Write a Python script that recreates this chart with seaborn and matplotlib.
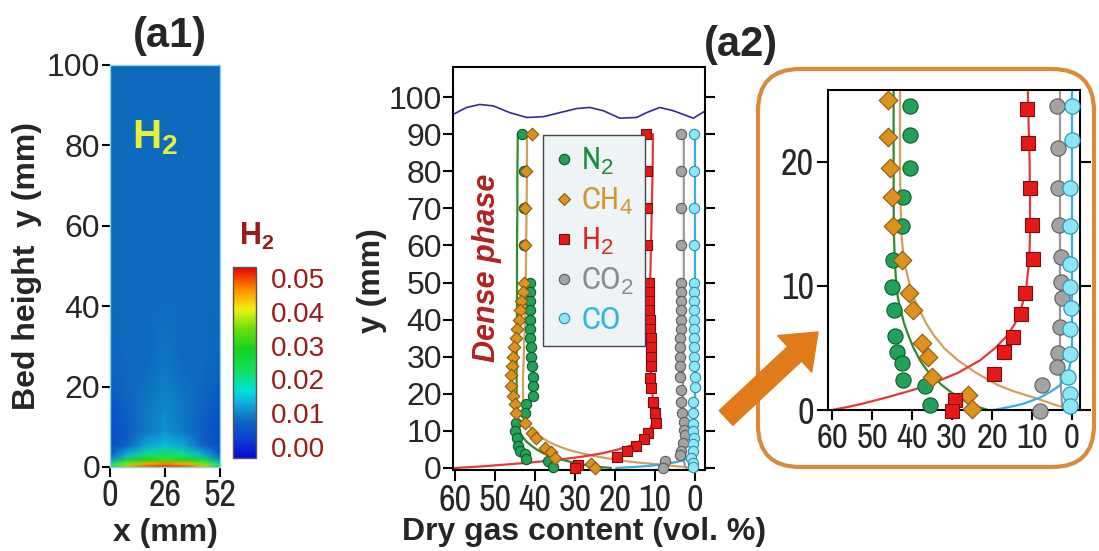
import numpy as np
import pandas as pd
import seaborn as sns
import matplotlib
matplotlib.use("Agg")
import matplotlib.pyplot as plt
from matplotlib import font_manager
from matplotlib.colors import LinearSegmentedColormap, Normalize
from matplotlib.patches import FancyBboxPatch, FancyArrow
from matplotlib.lines import Line2D

# ---------------------------------------------------------------- data
# (a1) simulated H2 mole fraction in the bed, coarse grid (x, y in mm)
field_x = [0, 8, 17, 26, 35, 44, 52]
field_y = [0, 0.8, 1.8, 3.2, 5.5, 9, 15, 25, 45, 100]
field_h2 = [
    [0.026, 0.044, 0.050, 0.052, 0.050, 0.044, 0.026],
    [0.020, 0.036, 0.045, 0.047, 0.045, 0.036, 0.020],
    [0.011, 0.024, 0.030, 0.032, 0.030, 0.024, 0.011],
    [0.006, 0.013, 0.020, 0.022, 0.020, 0.013, 0.006],
    [0.004, 0.007, 0.012, 0.014, 0.012, 0.007, 0.004],
    [0.004, 0.006, 0.009, 0.011, 0.009, 0.006, 0.004],
    [0.005, 0.007, 0.009, 0.010, 0.009, 0.007, 0.005],
    [0.007, 0.008, 0.008, 0.009, 0.008, 0.008, 0.007],
    [0.008, 0.008, 0.008, 0.008, 0.008, 0.008, 0.008],
    [0.008, 0.008, 0.008, 0.008, 0.008, 0.008, 0.008],
]
cbar_ticks = [0.00, 0.01, 0.02, 0.03, 0.04, 0.05]
a1_xticks = [0, 26, 52]
a1_yticks = [0, 20, 40, 60, 80, 100]

# (a2) measured dry gas content (vol. %) versus height y (mm)
upper_y = [90, 80, 70, 60, 50, 47.5, 45, 42.5, 40, 37.5, 35, 32.5, 30, 27.5]

n2_y = upper_y + [24.5, 22.2, 19.5, 17.2, 14.8, 12.1, 9.9, 8.1, 6.0, 4.7, 3.8, 2.4, 1.9, 0.4]
n2_x = [43.3, 42.8, 42.8, 42.8, 41.3, 41.3, 41.3, 41.2, 41.3, 41.2, 41.2, 41.0, 41.0, 40.8,
        40.5, 40.5, 40.5, 42.2, 42.6, 44.7, 45.1, 44.4, 44.3, 43.8, 42.6, 42.2, 36.8, 35.5]

ch4_y = upper_y + [25.0, 22.0, 19.5, 17.2, 14.8, 12.1, 9.4, 8.1, 5.4, 4.3, 2.7, 1.2, 0.1]
ch4_x = [40.8, 42.3, 42.6, 42.5, 42.8, 43.1, 43.4, 43.8, 44.0, 44.5, 44.8, 45.3, 45.6, 45.8,
         45.9, 45.9, 45.5, 45.0, 44.8, 42.6, 40.7, 39.7, 37.6, 35.9, 35.1, 25.9, 25.1]

h2_y = upper_y + [24.3, 21.5, 17.9, 14.9, 12.2, 9.4, 7.7, 5.9, 4.7, 2.9, 0.8, -0.1]
h2_x = [12.3, 12.0, 12.0, 12.0, 11.6, 11.5, 11.5, 11.4, 11.3, 11.2, 11.0, 11.0, 11.0, 11.0,
        11.2, 11.0, 10.5, 10.1, 9.8, 11.8, 12.8, 14.8, 16.9, 19.5, 29.3, 30.1]

co2_y = upper_y + [24.5, 21.1, 17.9, 14.9, 12.3, 10.3, 9.0, 6.7, 4.6, 3.5, 2.0, -0.1]
co2_x = [3.6, 3.6, 3.6, 3.6, 3.6, 3.6, 3.6, 3.6, 3.6, 3.6, 3.7, 3.7, 3.7, 3.7,
         3.8, 3.4, 3.4, 3.3, 2.8, 2.8, 2.6, 2.9, 3.4, 3.8, 7.6, 8.0]

co_y = upper_y + [24.5, 21.8, 17.9, 14.8, 11.8, 9.9, 8.2, 6.5, 4.5, 2.7, 1.3, 0.3]
co_x = [0.2, 0.2, 0.2, 0.2, 0.2, 0.2, 0.2, 0.2, 0.2, 0.2, 0.2, 0.2, 0.2, 0.2,
        0.1, 0.1, 0.5, 0.5, 0.5, 0.4, 0.3, 0.5, 0.5, 0.9, 0.5, 0.5]

# model profiles
fit_y = [0, 0.25, 0.5, 1, 1.5, 2, 3, 4, 5, 6, 7, 8, 9, 10, 12, 14, 17, 20, 25, 30,
         40, 50, 60, 70, 80, 90]
n2_fit = [21.0, 23.5, 25.5, 28.3, 30.5, 32.5, 35.8, 38.0, 39.6, 40.9, 42.0, 42.8, 43.5,
          43.9, 44.3, 44.5, 44.6, 44.6, 44.6, 44.6, 44.5, 44.5, 44.5, 44.4, 44.4, 44.3]
ch4_fit = [0.0, 2.5, 5.0, 9.5, 14.5, 18.5, 24.0, 28.5, 32.0, 34.5, 36.5, 38.0, 39.5,
           40.5, 42.0, 42.6, 42.9, 43.0, 43.0, 42.8, 42.5, 42.3, 42.2, 42.1, 42.0, 42.0]
h2_fit = [60.0, 56.0, 52.5, 46.5, 41.0, 36.0, 28.5, 23.0, 19.2, 16.2, 14.2, 12.9, 12.0,
          11.4, 10.7, 10.5, 10.5, 10.6, 11.0, 11.2, 11.3, 11.2, 11.0, 10.8, 10.6, 10.5]
co2_fit = [2.2, 2.4, 2.5, 2.6, 2.7, 2.8, 2.9, 3.0, 3.0, 3.0, 3.0, 3.0, 3.0, 3.0, 3.0,
           3.0, 3.0, 3.0, 3.0, 2.9, 2.8, 2.8, 2.8, 2.8, 2.8, 2.8]
co_fit = [19.7, 15.5, 12.2, 8.0, 5.2, 3.0, 1.0, 0.2, 0.0, 0.0, 0.0, 0.0, 0.0, 0.0, 0.0,
          0.0, 0.0, 0.0, 0.0, 0.0, 0.0, 0.0, 0.0, 0.0, 0.0, 0.0]

# bed surface
surf_x = [60.5, 57.1, 53.8, 50.4, 46.3, 42.1, 37.9, 33.8, 29.6, 26.3, 22.9, 18.8, 14.6,
          12.1, 8.8, 5.4, 0.4, -2.5]
surf_y = [95.3, 97.2, 98.0, 97.6, 95.8, 94.5, 94.7, 95.8, 96.9, 97.2, 96.3, 94.3, 94.5,
          95.8, 97.2, 96.3, 94.3, 96.2]

gas_labels = ["N$_2$", "CH$_4$", "H$_2$", "CO$_2$", "CO"]
gas_ticks = [60, 50, 40, 30, 20, 10, 0]
a2_yticks = [0, 10, 20, 30, 40, 50, 60, 70, 80, 90, 100]
inset_yticks = [0, 10, 20]

# ---------------------------------------------------------------- style
sns.set_theme(style="ticks")
names = {f.name for f in font_manager.fontManager.ttflist}
SANS = "Liberation Sans" if "Liberation Sans" in names else "DejaVu Sans"
NARROW = next((n for n in ["Liberation Sans Narrow", "Arial Narrow", "Nimbus Sans Narrow",
                           "Archivo Narrow", "Roboto Condensed", "PT Sans Narrow"]
               if n in names), SANS)
plt.rcParams["font.family"] = [SANS, "DejaVu Sans"]
plt.rcParams["mathtext.fontset"] = "custom"
plt.rcParams["mathtext.rm"] = SANS
plt.rcParams["mathtext.it"] = SANS + ":italic"
plt.rcParams["mathtext.bf"] = SANS + ":bold"
plt.rcParams["axes.linewidth"] = 1.5

W, H = 1099, 551


def frame(x0, y0, x1, y1):
    return [x0 / W, 1 - y1 / H, (x1 - x0) / W, (y1 - y0) / H]


def thicken(labels, weight="medium"):
    for lab in labels:
        lab.set_fontweight(weight)


gases = [
    dict(y=n2_y, x=n2_x, fit=n2_fit, marker="o", face="#23a05a", edge="#0f5a2a",
         line="#2e8b2e", text="#1e8a3c", scale=1.0),
    dict(y=ch4_y, x=ch4_x, fit=ch4_fit, marker="D", face="#dc921f", edge="#8a5a12",
         line="#d4a060", text="#d4962e", scale=0.75),
    dict(y=h2_y, x=h2_x, fit=h2_fit, marker="s", face="#e61919", edge="#7a0c0c",
         line="#e03a3a", text="#e02828", scale=0.95),
    dict(y=co2_y, x=co2_x, fit=co2_fit, marker="o", face="#a3a3a3", edge="#5e5e5e",
         line="#9a9a9a", text="#8c8c8c", scale=1.0),
    dict(y=co_y, x=co_x, fit=co_fit, marker="o", face="#8fe6f5", edge="#2a8fb5",
         line="#3aaee0", text="#30b8dc", scale=1.0),
]

fig = plt.figure(figsize=(W / 100, H / 100), dpi=100)

# ---------------------------------------------------------------- (a1)
ax1 = fig.add_axes(frame(110, 65, 220, 467))
cmap = LinearSegmentedColormap.from_list("bed", [
    (0.00, "#0808d8"), (0.10, "#0c40d0"), (0.20, "#0d6cbc"), (0.28, "#12a6dc"),
    (0.35, "#00e0e0"), (0.45, "#10e060"), (0.57, "#18d020"), (0.68, "#70e010"),
    (0.78, "#f0f010"), (0.88, "#ff9000"), (1.00, "#e80000")])
norm = Normalize(vmin=-0.00325, vmax=0.05325)
FX, FY = np.meshgrid(field_x, field_y)
mesh = ax1.pcolormesh(FX, FY, np.array(field_h2), shading="gouraud", cmap=cmap, norm=norm)
ax1.set_xlim(0, 52)
ax1.set_ylim(0, 100)
ax1.set_xticks(a1_xticks)
ax1.set_yticks(a1_yticks)
for s in ax1.spines.values():
    s.set_color("#86d4f2")
    s.set_linewidth(1.0)
ax1.tick_params(axis="y", length=6, width=1.5, pad=1, labelsize=23, color="black")
ax1.tick_params(axis="x", length=7, width=1.5, pad=2, labelsize=26, color="black",
                labelfontfamily=NARROW)
thicken(ax1.get_xticklabels())
ax1.set_ylabel("Bed height  y (mm)", fontsize=23, fontweight="bold")
ax1.yaxis.set_label_coords(-0.62, 0.5)
ax1.set_xlabel("x (mm)", fontsize=23, fontweight="bold")
ax1.xaxis.set_label_coords(0.5, -0.128)
ax1.text(0.41, 0.82, r"H$_\mathbf{2}$", transform=ax1.transAxes, ha="center", va="center",
         color="#e6f03a", fontsize=29, fontweight="bold")

cax = fig.add_axes(frame(233, 267, 256, 458))
cb = fig.colorbar(mesh, cax=cax, ticks=cbar_ticks)
cb.ax.set_yticklabels([f"{t:.2f}" for t in cbar_ticks])
cb.ax.tick_params(length=0, pad=11, labelsize=20, labelcolor="#9b1b1b")
cb.outline.set_edgecolor("#555555")
cb.outline.set_linewidth(1.0)
fig.text(257 / W, 1 - 236 / H, r"H$_\mathbf{2}$", ha="center", va="center",
         color="#9b1b1b", fontsize=22, fontweight="bold")

fig.text(170 / W, 1 - 36 / H, "(a1)", ha="center", va="center", fontsize=30,
         fontweight="bold")
fig.text(741 / W, 1 - 45 / H, "(a2)", ha="center", va="center", fontsize=30,
         fontweight="bold")

# ---------------------------------------------------------------- (a2) main
ax2 = fig.add_axes(frame(453, 67, 705, 470))


def draw_profiles(ax, size, ytop, lw):
    for g in gases:
        sns.lineplot(x=g["fit"], y=fit_y, ax=ax, orient="y", estimator=None,
                     color=g["line"], lw=lw, zorder=2)
    for g in gases:
        gx = np.array(g["x"])
        gy = np.array(g["y"])
        keep = gy <= ytop
        sns.scatterplot(x=gx[keep], y=gy[keep], ax=ax, marker=g["marker"],
                        s=size * g["scale"], color=g["face"], edgecolor=g["edge"],
                        linewidth=0.8, clip_on=False, zorder=3, legend=False)


draw_profiles(ax2, 55, 100, 1.6)
sns.lineplot(x=surf_x, y=surf_y, ax=ax2, sort=False, estimator=None, color="#2e2e9a",
             lw=1.2, zorder=2)
ax2.set_xlim(60.5, -2.5)
ax2.set_ylim(-0.54, 108.1)
ax2.set_xticks(gas_ticks)
ax2.set_yticks(a2_yticks)
ax2.tick_params(axis="y", length=7, width=1.5, pad=1, labelsize=23, right=True,
                direction="out", color="black")
ax2.tick_params(axis="x", length=8, width=1.5, pad=2, labelsize=26, color="black",
                labelfontfamily=NARROW)
thicken(ax2.get_xticklabels())
ax2.set_xlabel("Dry gas content (vol. %)", fontsize=23, fontweight="bold")
ax2.xaxis.set_label_coords(0.52, -0.116)
ax2.set_ylabel("y (mm)", fontsize=23, fontweight="bold")
ax2.yaxis.set_label_coords(-0.262, 0.47)
for s in ax2.spines.values():
    s.set_color("black")
ax2.text(52, 54, "Dense phase", rotation=90, ha="center", va="center", color="#b22222",
         fontsize=22, fontweight="bold", fontstyle="italic")

handles = [Line2D([], [], ls="none", marker=g["marker"], markersize=7.5 * g["scale"] ** 0.5,
                  markerfacecolor=g["face"], markeredgecolor=g["edge"], markeredgewidth=0.8)
           for g in gases]
leg = ax2.legend(handles, gas_labels, loc="upper left",
                 bbox_to_anchor=(543 / W, 1 - 135 / H), bbox_transform=fig.transFigure,
                 borderaxespad=0, frameon=True, fancybox=False,
                 edgecolor="#444444", facecolor="#eef3f6", framealpha=1,
                 handlelength=0.6, handletextpad=0.25, labelspacing=0.28, borderpad=0.35,
                 labelcolor=[g["text"] for g in gases],
                 prop={"family": NARROW, "size": 23, "weight": "medium"})
leg.get_frame().set_linewidth(1.0)

# ---------------------------------------------------------------- (a2) zoom
axi = fig.add_axes(frame(828, 90, 1080, 410))
draw_profiles(axi, 120, 25.8, 1.6)
axi.set_xlim(61, -2)
axi.set_ylim(0, 25.8)
axi.set_xticks(gas_ticks)
axi.set_yticks(inset_yticks)
axi.tick_params(axis="y", length=8, width=1.5, pad=2, labelsize=26, right=True,
                direction="out", color="black", labelfontfamily=NARROW)
axi.tick_params(axis="x", length=7, width=1.5, pad=2, labelsize=25, color="black",
                labelfontfamily=NARROW)
thicken(axi.get_xticklabels())
thicken(axi.get_yticklabels())
axi.set_xlabel("")
axi.set_ylabel("")
for s in axi.spines.values():
    s.set_color("black")

box = FancyBboxPatch((7.58, 0.84), 3.36, 3.98, boxstyle="round,pad=0,rounding_size=0.42",
                     transform=fig.dpi_scale_trans, fill=False, edgecolor="#d98a3a",
                     linewidth=3.0, zorder=0)
fig.add_artist(box)
arrow = FancyArrow(7.26, 1.33, 0.92, 0.86, width=0.2, head_width=0.5, head_length=0.32,
                   length_includes_head=True, transform=fig.dpi_scale_trans,
                   color="#e07a1a", zorder=5)
fig.add_artist(arrow)

fig.savefig("out.png", dpi=100)
